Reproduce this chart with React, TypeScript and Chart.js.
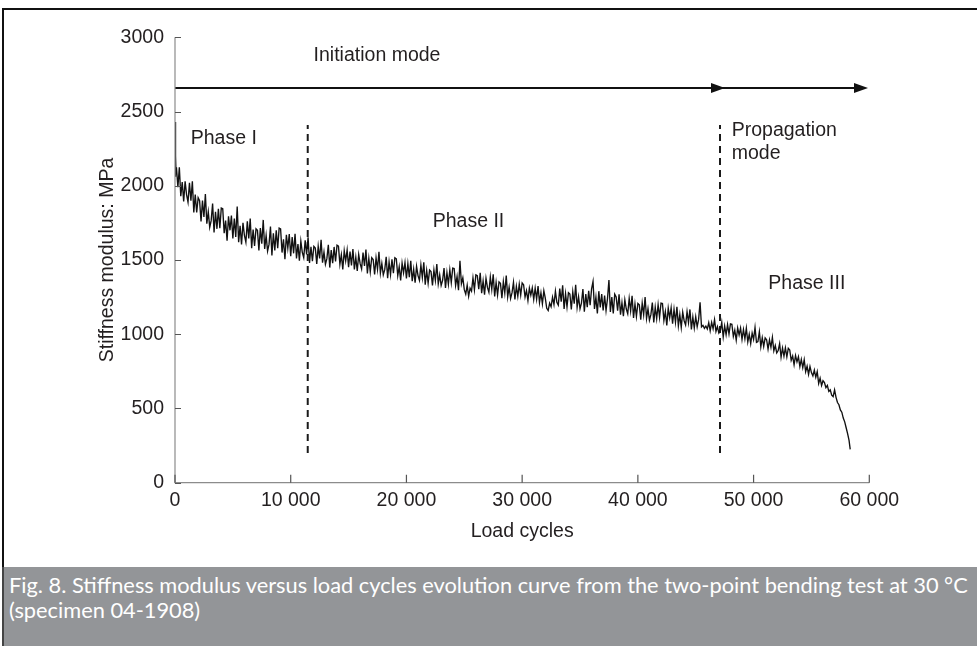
import React, { useEffect, useRef } from "react";
import { Chart, registerables } from "chart.js";

Chart.register(...registerables);

// ---- data ----
const headCycles = [0, 30, 60, 90];
const headStiffness = [2430, 2060, 2200, 2080];

const CYCLE_STEP = 125; // sampling interval of the body series (starts at 125)
const bodyStiffness = [
  // 0 - 10 000
  2125, 1990, 2125, 1930, 2025, 1895, 2030, 1940,
  1890, 2020, 1900, 2030, 1820, 1940, 1820, 1920,
  1900, 1760, 1900, 1790, 1945, 1745, 1825, 1720,
  1765, 1880, 1685, 1825, 1710, 1845, 1715, 1850,
  1845, 1680, 1765, 1630, 1795, 1700, 1800, 1645,
  1780, 1655, 1860, 1620, 1730, 1605, 1750, 1665,
  1620, 1760, 1645, 1780, 1580, 1705, 1595, 1710,
  1700, 1565, 1715, 1610, 1770, 1575, 1665, 1560,
  1605, 1725, 1530, 1680, 1565, 1700, 1580, 1715,
  1710, 1550, 1640, 1505, 1670, 1580, 1675, 1525,
  // 10 000 - 20 000
  1655, 1545, 1676, 1510, 1607, 1496, 1627, 1552,
  1516, 1633, 1537, 1653, 1480, 1589, 1492, 1592,
  1580, 1474, 1592, 1510, 1636, 1482, 1553, 1471,
  1509, 1603, 1449, 1567, 1478, 1588, 1490, 1600,
  1593, 1471, 1536, 1437, 1563, 1494, 1567, 1452,
  1556, 1463, 1574, 1437, 1518, 1427, 1537, 1475,
  1440, 1550, 1460, 1570, 1409, 1511, 1421, 1515,
  1503, 1403, 1514, 1437, 1556, 1411, 1477, 1400,
  1435, 1522, 1377, 1487, 1402, 1505, 1412, 1515,
  1508, 1394, 1455, 1362, 1479, 1414, 1483, 1376,
  // 20 000 - 30 000
  1476, 1384, 1494, 1357, 1438, 1347, 1457, 1395,
  1363, 1466, 1382, 1484, 1334, 1429, 1344, 1432,
  1422, 1329, 1433, 1362, 1473, 1339, 1400, 1329,
  1363, 1445, 1311, 1415, 1337, 1434, 1348, 1445,
  1443, 1329, 1390, 1297, 1495, 1340, 1380, 1300,
  1270, 1330, 1255, 1310, 1290, 1380, 1300, 1400,
  1395, 1303, 1414, 1277, 1358, 1267, 1377, 1315,
  1283, 1386, 1302, 1404, 1254, 1349, 1264, 1352,
  1343, 1243, 1354, 1277, 1396, 1251, 1317, 1240,
  1280, 1350, 1234, 1322, 1255, 1337, 1263, 1345,
  // 30 000 - 40 000
  1333, 1251, 1294, 1227, 1311, 1264, 1312, 1235,
  1310, 1236, 1324, 1214, 1279, 1205, 1293, 1243,
  1175, 1160, 1210, 1185, 1250, 1200, 1290, 1215,
  1196, 1307, 1219, 1330, 1170, 1273, 1185, 1280,
  1271, 1167, 1286, 1206, 1333, 1181, 1252, 1171,
  1210, 1305, 1152, 1271, 1182, 1293, 1195, 1305,
  1355, 1170, 1250, 1140, 1290, 1180, 1270, 1160,
  1260, 1160, 1240, 1365, 1150, 1250, 1140, 1270,
  1251, 1159, 1269, 1132, 1213, 1122, 1232, 1170,
  1138, 1241, 1157, 1259, 1109, 1204, 1119, 1207,
  // 40 000 - 50 000
  1198, 1098, 1209, 1132, 1251, 1106, 1172, 1095,
  1132, 1214, 1079, 1182, 1104, 1200, 1114, 1210,
  1207, 1093, 1153, 1060, 1176, 1111, 1178, 1071,
  1167, 1081, 1184, 1056, 1132, 1046, 1149, 1091,
  1063, 1152, 1078, 1167, 1033, 1116, 1042, 1118,
  1050, 1100, 1215, 1050, 1060, 1040, 1055, 1035,
  1078, 1023, 1080, 1037, 1098, 1019, 1051, 1008,
  1022, 1080, 982, 1055, 997, 1065, 1002, 1070,
  1067, 985, 1027, 960, 1042, 995, 1042, 965,
  1032, 969, 1041, 948, 1000, 937, 1008, 965,
  // 50 000 - 58 000
  1045, 945, 951, 1018, 915, 977, 918, 975,
  963, 900, 962, 912, 979, 888, 924, 874,
  890, 937, 846, 907, 852, 908, 848, 905,
  894, 824, 853, 795, 857, 814, 848, 782,
  831, 775, 828, 748, 785, 729, 782, 742,
  719, 758, 710, 748, 668, 704, 655, 687,
  675, 640, 655, 615, 625, 590, 580, 625,
  575, 540, 525, 490, 475, 435, 410, 370,
];
const tailCycles = [58125, 58250, 58350];
const tailStiffness = [330, 285, 225];

const yTicks = [0, 500, 1000, 1500, 2000, 2500, 3000];
const xTicks = [0, 10000, 20000, 30000, 40000, 50000, 60000];

const phaseBoundaries = [11470, 47100];
const boundaryRange = [200, 2410];

const arrowLevel = 2658;
const arrowTips = [47530, 59890];

const labelTexts = ["Initiation mode", "Phase I", "Phase II", "Propagation", "mode", "Phase III"];
const labelCycles = [17457, 1360, 22270, 48110, 48110, 51275];
const labelStiffness = [2874, 2320, 1758, 2369, 2218, 1338];
const labelAligns = ["center", "left", "left", "left", "left", "left"];

const xTitle = "Load cycles";
const yTitle = "Stiffness modulus: MPa";
const captionLines = [
  "Fig. 8. Stiffness modulus versus load cycles evolution curve from the two-point bending test at 30 °C",
  "(specimen 04-1908)",
];

const FONT = "'Liberation Sans', Arial, Helvetica, sans-serif";
const TEXT = "#231f20";

function fmt(v: number): string {
  return String(v).replace(/\B(?=(\d{3})+(?!\d))/g, " ");
}

const overlayPlugin = {
  id: "overlay",
  afterDatasetsDraw(chart: any) {
    const { ctx, scales, chartArea } = chart;
    const x = scales.x;
    const y = scales.y;
    ctx.save();
    // axis lines
    ctx.strokeStyle = "#8c8c8c";
    ctx.lineWidth = 1.2;
    ctx.beginPath();
    ctx.moveTo(chartArea.left, y.getPixelForValue(3000));
    ctx.lineTo(chartArea.left, chartArea.bottom);
    ctx.lineTo(x.getPixelForValue(60000), chartArea.bottom);
    ctx.stroke();
    // inward ticks
    ctx.strokeStyle = "#555";
    ctx.lineWidth = 1.2;
    ctx.beginPath();
    for (const v of yTicks) {
      const py = Math.round(y.getPixelForValue(v)) + 0.5;
      ctx.moveTo(chartArea.left, py);
      ctx.lineTo(chartArea.left + 6, py);
    }
    for (const v of xTicks) {
      const px = x.getPixelForValue(v);
      ctx.moveTo(px, chartArea.bottom);
      ctx.lineTo(px, chartArea.bottom - 8);
    }
    ctx.stroke();
    // arrowheads
    ctx.fillStyle = "#111";
    const ay = y.getPixelForValue(arrowLevel);
    for (const t of arrowTips) {
      const px = x.getPixelForValue(t);
      ctx.beginPath();
      ctx.moveTo(px, ay);
      ctx.lineTo(px - 14, ay - 5);
      ctx.lineTo(px - 14, ay + 5);
      ctx.closePath();
      ctx.fill();
    }
    // annotations
    ctx.fillStyle = TEXT;
    ctx.font = `19.5px ${FONT}`;
    ctx.textBaseline = "middle";
    labelTexts.forEach((t, i) => {
      ctx.textAlign = labelAligns[i] as CanvasTextAlign;
      ctx.fillText(t, x.getPixelForValue(labelCycles[i]), y.getPixelForValue(labelStiffness[i]));
    });
    // axis titles
    ctx.textAlign = "center";
    ctx.fillText(xTitle, (chartArea.left + chartArea.right) / 2, chartArea.bottom + 49);
    ctx.save();
    ctx.translate(113, (chartArea.top + chartArea.bottom) / 2);
    ctx.rotate(-Math.PI / 2);
    ctx.textBaseline = "alphabetic";
    ctx.fillText(yTitle, 0, 0);
    ctx.restore();
    ctx.restore();
  },
};

export default function App() {
  const ref = useRef<HTMLCanvasElement | null>(null);

  useEffect(() => {
    if (!ref.current) return;
    const curve: { x: number; y: number }[] = [];
    headCycles.forEach((c, i) => curve.push({ x: c, y: headStiffness[i] }));
    bodyStiffness.forEach((v, i) => curve.push({ x: (i + 1) * CYCLE_STEP, y: v }));
    tailCycles.forEach((c, i) => curve.push({ x: c, y: tailStiffness[i] }));

    const boundarySets = phaseBoundaries.map((b) => ({
      data: [
        { x: b, y: boundaryRange[0] },
        { x: b, y: boundaryRange[1] },
      ],
      borderColor: "#1a1a1a",
      borderWidth: 2,
      borderDash: [7, 5],
      pointRadius: 0,
    }));

    const chart = new Chart(ref.current, {
      type: "line",
      data: {
        datasets: [
          {
            data: curve,
            borderColor: "#111",
            borderWidth: 1.35,
            pointRadius: 0,
            tension: 0,
          },
          ...boundarySets,
          {
            data: [
              { x: 0, y: arrowLevel },
              { x: arrowTips[arrowTips.length - 1] - 800, y: arrowLevel },
            ],
            borderColor: "#111",
            borderWidth: 2,
            pointRadius: 0,
          },
        ],
      },
      options: {
        animation: false,
        responsive: false,
        devicePixelRatio: 1,
        layout: { padding: { left: 0, top: 37.3, right: 107.7, bottom: 0 } },
        plugins: { legend: { display: false }, tooltip: { enabled: false } },
        scales: {
          x: {
            type: "linear",
            min: 0,
            max: 60000,
            grid: { display: false, drawTicks: false },
            border: { display: false },
            afterBuildTicks: (s: any) => {
              s.ticks = xTicks.map((v) => ({ value: v }));
            },
            afterFit: (s: any) => {
              s.height = 84.3;
            },
            ticks: {
              autoSkip: false,
              maxRotation: 0,
              padding: 6,
              color: TEXT,
              font: { family: FONT, size: 19.5 },
              callback: (v: any) => fmt(Number(v)),
            },
          },
          y: {
            type: "linear",
            min: 0,
            max: 3000,
            grid: { display: false, drawTicks: false },
            border: { display: false },
            afterBuildTicks: (s: any) => {
              s.ticks = yTicks.map((v) => ({ value: v }));
            },
            afterFit: (s: any) => {
              s.width = 175;
            },
            ticks: {
              padding: 11,
              color: TEXT,
              font: { family: FONT, size: 19.5 },
              callback: (v: any) => String(v),
            },
          },
        },
      },
      plugins: [overlayPlugin],
    });
    return () => chart.destroy();
  }, []);

  return (
    <div
      style={{
        position: "absolute",
        left: 0,
        top: 0,
        width: 977,
        height: 646,
        background: "#fff",
        overflow: "hidden",
      }}
    >
      <canvas ref={ref} width={977} height={567} style={{ display: "block", width: 977, height: 567 }} />
      <div
        style={{
          position: "absolute",
          left: 2,
          top: 8,
          right: 0,
          height: 559,
          borderTop: "2px solid #111",
          borderLeft: "2px solid #111",
          boxSizing: "border-box",
          pointerEvents: "none",
        }}
      />
      <div
        style={{
          position: "absolute",
          left: 2,
          top: 567,
          right: 0,
          bottom: 0,
          background: "#939598",
          borderLeft: "2px solid #444",
          boxSizing: "border-box",
          color: "#fff",
          fontFamily: "Lato, 'Open Sans', sans-serif",
          fontSize: 21.8,
          lineHeight: "25px",
          padding: "5px 0 0 5px",
          whiteSpace: "nowrap",
        }}
      >
        {captionLines.map((l, i) => (
          <div key={i}>{l}</div>
        ))}
      </div>
    </div>
  );
}
